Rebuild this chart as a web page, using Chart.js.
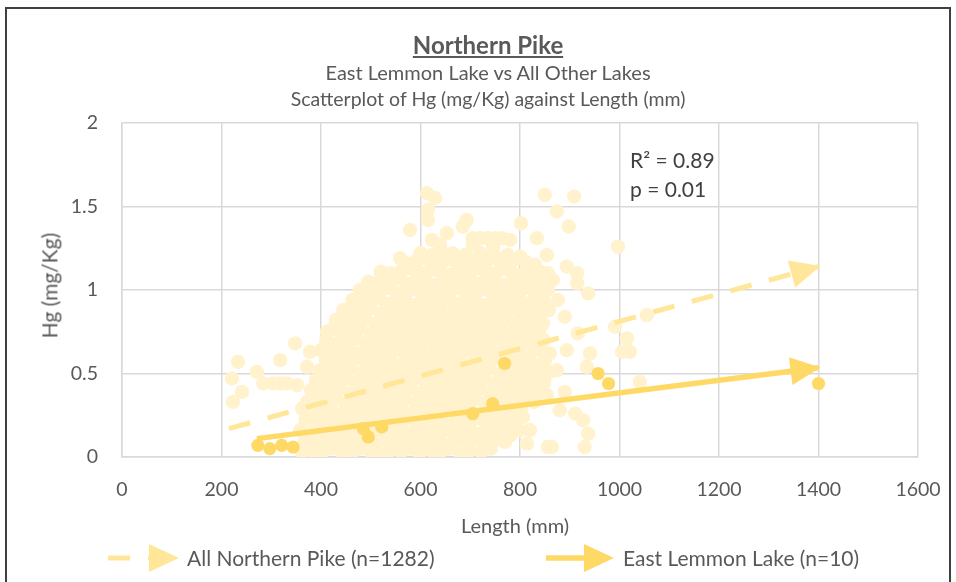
<!DOCTYPE html>
<html>
<head>
<meta charset="utf-8">
<title>Northern Pike</title>
<script src="https://cdn.jsdelivr.net/npm/chart.js@4.4.1/dist/chart.umd.min.js"></script>
<style>
  body { margin: 0; background: #fff; font-family: Lato, "Open Sans", sans-serif; color: #595959; }
  #wrap { position: relative; width: 956px; height: 582px; overflow: hidden; }
  #frame { position: absolute; left: 5px; top: 7px; width: 946px; height: 600px; border: 2px solid #404040; box-sizing: border-box; }
  canvas { position: absolute; left: 0; top: 0; }
  .txt { position: absolute; white-space: nowrap; line-height: 1.2; }
  .center { left: 188px; width: 600px; text-align: center; }
  svg { position: absolute; overflow: visible; }
</style>
</head>
<body>
<div id="wrap">
  <div id="frame"></div>
  <canvas id="pikeChart" width="956" height="582"></canvas>

  <div class="txt center" style="top:31px;font-size:24px;font-weight:bold;text-decoration:underline;">Northern Pike</div>
  <div class="txt center" style="top:60px;font-size:20px;">East Lemmon Lake vs All Other Lakes</div>
  <div class="txt center" style="top:87px;font-size:19.5px;">Scatterplot of Hg (mg/Kg) against Length (mm)</div>

  <div class="txt" style="left:-51px;top:273px;width:200px;text-align:center;font-size:21px;transform:rotate(-90deg);">Hg (mg/Kg)</div>
  <div class="txt" style="left:365px;top:513px;width:300px;text-align:center;font-size:20px;">Length (mm)</div>

  <div class="txt" style="left:630px;top:147px;font-size:21px;color:#404040;">R² = 0.89</div>
  <div class="txt" style="left:630px;top:176px;font-size:21px;color:#404040;">p = 0.01</div>

  <svg style="left:100px;top:544px;" width="90" height="28">
    <line x1="8" y1="14" x2="70" y2="14" stroke="#FFE699" stroke-width="5" stroke-dasharray="22 18"/>
    <polygon points="49,0 79,14 49,28" fill="#FFE699"/>
  </svg>
  <div class="txt" style="left:187px;top:545px;font-size:21px;">All Northern Pike (n=1282)</div>

  <svg style="left:540px;top:544px;" width="90" height="28">
    <line x1="6" y1="14" x2="60" y2="14" stroke="#FFD966" stroke-width="5.5"/>
    <polygon points="44,0 74,14 44,28" fill="#FFD966"/>
  </svg>
  <div class="txt" style="left:623px;top:545px;font-size:21px;">East Lemmon Lake (n=10)</div>
</div>

<script>
// Length (mm), Hg (mg/Kg)
const allPike = [
  [362,0.03],[382,0.04],[401,0.02],[419,0.05],[441,0.03],[462,0.02],[479,0.05],[500,0.03],[521,0.01],[539,0.04],[561,0.03],[579,0.05],[598,0.02],[622,0.04],[640,0.03],[659,0.05],[681,0.02],[699,0.04],[722,0.03],[741,0.05],[814,0.08],[856,0.06],[864,0.06],[930,0.06],
  [368,0.10],[389,0.08],[411,0.09],[429,0.11],[450,0.08],[471,0.10],[489,0.09],[510,0.07],[531,0.10],[549,0.09],[570,0.11],[591,0.08],[609,0.10],[630,0.09],[651,0.07],[669,0.10],[690,0.09],[711,0.11],[729,0.08],[750,0.10],[770,0.09],
  [358,0.16],[380,0.14],[399,0.15],[420,0.17],[441,0.14],[459,0.16],[480,0.15],[501,0.13],[519,0.16],[540,0.15],[561,0.17],[579,0.14],[600,0.16],[621,0.15],[639,0.13],[660,0.16],[681,0.15],[699,0.17],[720,0.14],[741,0.16],[760,0.15],[781,0.13],[799,0.16],[820,0.16],[937,0.14],
  [369,0.22],[390,0.20],[410,0.21],[431,0.23],[449,0.20],[470,0.22],[491,0.21],[509,0.19],[530,0.22],[551,0.21],[569,0.23],[590,0.20],[611,0.22],[629,0.21],[650,0.19],[671,0.22],[689,0.21],[710,0.23],[731,0.20],[749,0.22],[770,0.21],[791,0.19],[806,0.24],[911,0.26],[927,0.22],
  [362,0.29],[381,0.26],[399,0.27],[420,0.29],[441,0.26],[459,0.28],[480,0.27],[501,0.25],[519,0.28],[540,0.27],[561,0.29],[579,0.26],[600,0.28],[621,0.27],[639,0.25],[660,0.28],[681,0.27],[699,0.29],[720,0.26],[741,0.28],[760,0.27],[781,0.25],[801,0.28],[880,0.28],
  [372,0.33],[390,0.32],[411,0.33],[430,0.35],[450,0.32],[469,0.34],[490,0.33],[511,0.31],[530,0.34],[549,0.33],[570,0.35],[591,0.32],[610,0.34],[629,0.33],[650,0.31],[671,0.34],[690,0.33],[709,0.35],[730,0.32],[751,0.34],[770,0.33],[789,0.31],[810,0.34],[829,0.33],[223,0.33],[241,0.39],
  [380,0.40],[401,0.38],[420,0.39],[439,0.41],[460,0.38],[481,0.40],[500,0.39],[519,0.37],[540,0.40],[561,0.39],[580,0.41],[599,0.38],[620,0.40],[641,0.39],[660,0.37],[679,0.40],[700,0.39],[721,0.41],[740,0.38],[759,0.40],[780,0.39],[801,0.37],[820,0.40],[841,0.39],[854,0.37],[890,0.39],
  [390,0.46],[409,0.44],[430,0.45],[451,0.47],[470,0.44],[489,0.46],[510,0.45],[531,0.43],[550,0.46],[569,0.45],[590,0.47],[611,0.44],[630,0.46],[649,0.45],[670,0.43],[691,0.46],[710,0.45],[729,0.47],[750,0.44],[771,0.46],[790,0.45],[809,0.43],[830,0.46],[849,0.45],[1041,0.45],[221,0.47],[284,0.44],[304,0.44],[318,0.44],[331,0.44],[352,0.43],
  [398,0.52],[420,0.50],[439,0.51],[460,0.53],[481,0.50],[499,0.52],[520,0.51],[541,0.49],[559,0.52],[580,0.51],[601,0.53],[619,0.50],[640,0.52],[661,0.51],[679,0.49],[700,0.52],[721,0.51],[739,0.53],[760,0.50],[781,0.52],[799,0.51],[820,0.49],[841,0.52],[860,0.51],[874,0.52],[271,0.51],[372,0.54],
  [410,0.58],[431,0.56],[450,0.57],[469,0.59],[490,0.56],[511,0.58],[530,0.57],[549,0.55],[570,0.58],[591,0.57],[610,0.59],[629,0.56],[650,0.58],[671,0.57],[690,0.55],[709,0.58],[730,0.57],[751,0.59],[770,0.56],[789,0.58],[810,0.57],[831,0.55],[850,0.58],[934,0.54],[233,0.57],[318,0.58],
  [400,0.64],[420,0.62],[441,0.63],[459,0.65],[480,0.62],[501,0.64],[519,0.63],[540,0.61],[561,0.64],[579,0.63],[600,0.65],[621,0.62],[639,0.64],[660,0.63],[681,0.61],[699,0.64],[720,0.63],[741,0.65],[759,0.62],[780,0.64],[801,0.63],[819,0.61],[840,0.64],[860,0.62],[894,0.64],[941,0.62],[1005,0.63],[1021,0.63],[378,0.63],
  [410,0.70],[431,0.68],[450,0.69],[469,0.71],[490,0.68],[511,0.70],[530,0.69],[549,0.67],[570,0.70],[591,0.69],[610,0.71],[629,0.68],[650,0.70],[671,0.69],[690,0.67],[709,0.70],[730,0.69],[751,0.71],[770,0.68],[789,0.70],[810,0.69],[831,0.67],[848,0.70],[1015,0.71],[348,0.68],
  [412,0.75],[425,0.77],[441,0.74],[460,0.75],[479,0.77],[500,0.74],[521,0.76],[540,0.75],[559,0.73],[580,0.76],[601,0.75],[620,0.77],[639,0.74],[660,0.76],[681,0.75],[700,0.73],[719,0.76],[740,0.75],[761,0.77],[780,0.74],[799,0.76],[820,0.75],[838,0.74],[916,0.74],[991,0.78],
  [430,0.82],[451,0.80],[470,0.81],[489,0.83],[510,0.80],[531,0.82],[550,0.81],[569,0.79],[590,0.82],[611,0.81],[630,0.83],[649,0.80],[670,0.82],[691,0.81],[710,0.79],[729,0.82],[750,0.81],[771,0.83],[790,0.80],[809,0.82],[830,0.81],[846,0.80],[890,0.84],[1055,0.85],
  [445,0.88],[460,0.86],[480,0.87],[499,0.89],[520,0.86],[541,0.88],[560,0.87],[579,0.85],[600,0.88],[621,0.87],[640,0.89],[659,0.86],[680,0.88],[701,0.87],[720,0.85],[739,0.88],[760,0.87],[781,0.89],[800,0.86],[819,0.88],[840,0.87],[858,0.88],
  [463,0.94],[476,0.92],[490,0.93],[509,0.95],[530,0.92],[551,0.94],[570,0.93],[589,0.91],[610,0.94],[631,0.93],[650,0.95],[669,0.92],[690,0.94],[711,0.93],[730,0.91],[749,0.94],[770,0.93],[791,0.95],[810,0.92],[829,0.94],[848,0.93],[876,0.94],
  [478,1.00],[500,0.98],[519,0.99],[540,1.01],[561,0.98],[579,1.00],[600,0.99],[621,0.97],[639,1.00],[660,0.99],[681,1.01],[699,0.98],[720,1.00],[741,0.99],[760,0.97],[779,1.00],[800,0.99],[821,1.01],[840,0.98],[856,1.00],[937,0.98],
  [495,1.05],[511,1.04],[530,1.05],[549,1.07],[570,1.04],[591,1.06],[610,1.05],[629,1.03],[650,1.06],[671,1.05],[690,1.07],[709,1.04],[730,1.06],[751,1.05],[770,1.03],[789,1.06],[810,1.05],[831,1.07],[850,1.04],[866,1.06],[915,1.04],
  [520,1.11],[540,1.10],[560,1.11],[579,1.13],[600,1.10],[621,1.12],[640,1.11],[659,1.09],[680,1.12],[701,1.11],[720,1.13],[739,1.10],[760,1.12],[781,1.11],[800,1.09],[819,1.12],[840,1.11],[856,1.10],[894,1.14],[915,1.10],
  [559,1.19],[571,1.16],[590,1.17],[609,1.19],[630,1.16],[651,1.18],[670,1.17],[689,1.15],[710,1.18],[731,1.17],[750,1.19],[769,1.16],[790,1.18],[811,1.17],[830,1.15],[854,1.21],
  [600,1.22],[622,1.21],[641,1.23],[665,1.22],[690,1.21],[720,1.22],[746,1.22],[775,1.21],[800,1.20],[585,1.14],
  [613,1.58],[629,1.55],[615,1.48],[615,1.42],[693,1.42],[685,1.38],[850,1.57],[909,1.56],[874,1.47],[898,1.38],[802,1.40],[834,1.31],[997,1.26],[579,1.36],[653,1.34],[623,1.30],[639,1.27],
  [705,1.31],[720,1.31],[735,1.31],[750,1.31],[765,1.31],[780,1.30],[705,1.27],[746,1.26]
];

const lemmonPike = [
  [273,0.07],[297,0.05],[321,0.07],[344,0.06],[485,0.17],[495,0.12],[522,0.18],
  [705,0.26],[745,0.32],[769,0.56],[957,0.50],[978,0.44],[1400,0.44]
];

// fitted lines, start and end of each arrow
const pikeTrendLength = [215, 1400];
const pikeTrendHg = [0.17, 1.14];
const lemmonTrendLength = [271, 1400];
const lemmonTrendHg = [0.11, 0.535];

const xTicks = [0, 200, 400, 600, 800, 1000, 1200, 1400, 1600];
const yTicks = [0, 0.5, 1, 1.5, 2];

const toPoints = (pairs) => pairs.map(([x, y]) => ({ x, y }));
const toLine = (xs, ys) => xs.map((x, i) => ({ x, y: ys[i] }));

// arrow head at the end of the trend lines
const arrowHeads = {
  id: 'arrowHeads',
  afterDatasetsDraw(chart) {
    const ctx = chart.ctx;
    chart.data.datasets.forEach((ds, i) => {
      if (!ds.arrowHead) return;
      const pts = chart.getDatasetMeta(i).data;
      const a = pts[pts.length - 2], b = pts[pts.length - 1];
      const ang = Math.atan2(b.y - a.y, b.x - a.x);
      const c = Math.cos(ang), s = Math.sin(ang);
      const len = 30, half = 14;
      const tx = b.x + 2 * c, ty = b.y + 2 * s;
      ctx.save();
      ctx.fillStyle = ds.borderColor;
      ctx.beginPath();
      ctx.moveTo(tx, ty);
      ctx.lineTo(tx - len * c - half * s, ty - len * s + half * c);
      ctx.lineTo(tx - len * c + half * s, ty - len * s - half * c);
      ctx.closePath();
      ctx.fill();
      ctx.restore();
    });
  }
};

const tickFont = { family: 'Lato', size: 19.5 };

new Chart(document.getElementById('pikeChart'), {
  type: 'scatter',
  data: {
    datasets: [
      {
        label: 'All Northern Pike (n=1282)',
        data: toPoints(allPike),
        backgroundColor: '#FFF2CC',
        pointRadius: 7.2,
        pointBorderWidth: 0,
        order: 4
      },
      {
        label: 'All Northern Pike trend',
        data: toLine(pikeTrendLength, pikeTrendHg),
        showLine: true,
        borderColor: '#FFE699',
        borderWidth: 5,
        borderDash: [22, 18],
        borderCapStyle: 'butt',
        pointRadius: 0,
        arrowHead: true,
        order: 3
      },
      {
        label: 'East Lemmon Lake (n=10)',
        data: toPoints(lemmonPike),
        backgroundColor: '#FFD966',
        pointRadius: 6.6,
        pointBorderWidth: 0,
        order: 2
      },
      {
        label: 'East Lemmon Lake trend',
        data: toLine(lemmonTrendLength, lemmonTrendHg),
        showLine: true,
        borderColor: '#FFD966',
        borderWidth: 5.5,
        borderCapStyle: 'butt',
        pointRadius: 0,
        arrowHead: true,
        order: 1
      }
    ]
  },
  options: {
    responsive: false,
    animation: false,
    events: [],
    layout: { padding: { left: 0, right: 38, top: 123, bottom: 65 } },
    plugins: {
      legend: { display: false },
      tooltip: { enabled: false }
    },
    scales: {
      x: {
        type: 'linear',
        min: xTicks[0],
        max: xTicks[xTicks.length - 1],
        // invisible tick marks give the vertical gap, so no sideways padding is added
        ticks: { stepSize: xTicks[1] - xTicks[0], padding: 0, color: '#595959', font: tickFont, callback: v => String(v) },
        grid: { color: '#D9D9D9', lineWidth: 1.5, drawTicks: true, tickLength: 21, tickColor: 'rgba(0,0,0,0)' },
        border: { color: '#D9D9D9', width: 1.5 },
        afterFit: (scale) => { scale.height = 60; }
      },
      y: {
        min: yTicks[0],
        max: yTicks[yTicks.length - 1],
        ticks: { stepSize: yTicks[1] - yTicks[0], padding: 24, color: '#595959', font: tickFont, callback: v => String(v) },
        grid: { color: '#D9D9D9', lineWidth: 1.5, drawTicks: false },
        border: { color: '#D9D9D9', width: 1.5 },
        afterFit: (scale) => { scale.width = 122; }
      }
    }
  },
  plugins: [arrowHeads]
});
</script>
</body>
</html>
